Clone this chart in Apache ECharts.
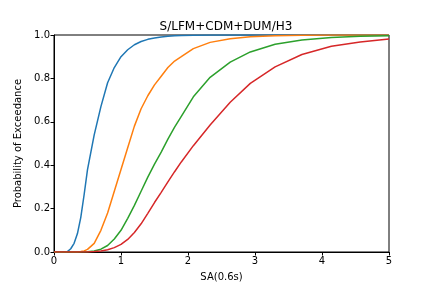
<!DOCTYPE html>
<html lang="en">
<head>
    <meta charset="UTF-8">
    <title>S/LFM+CDM+DUM/H3</title>
    <script src="https://cdn.jsdelivr.net/npm/echarts@6/dist/echarts.min.js"></script>
</head>
<body style="margin:0;">
<div id="chart" style="width: 432px;height: 288px;"></div>
<script>
    // SA(0.6s) grid points
    var saValues = [0, 0.1, 0.2, 0.25, 0.3, 0.35, 0.4, 0.45, 0.5, 0.6, 0.7, 0.8, 0.9, 1.0, 1.1, 1.2, 1.3, 1.4, 1.5, 1.6, 1.7, 1.8, 1.9,
        2.08, 2.33, 2.63, 2.93, 3.3, 3.7, 4.14, 4.57, 5.0];
    // probability of exceedance, one list per damage state curve
    var curveBlue = [0, 0, 0.002, 0.015, 0.04, 0.085, 0.16, 0.265, 0.38, 0.54, 0.67, 0.78, 0.85, 0.9, 0.932, 0.955, 0.97, 0.98, 0.986, 0.991, 0.994, 0.997, 0.998,
        0.999, 1, 1, 1, 1, 1, 1, 1, 1];
    var curveOrange = [0, 0, 0, 0, 0, 0, 0.002, 0.005, 0.012, 0.04, 0.1, 0.18, 0.28, 0.38, 0.48, 0.58, 0.66, 0.72, 0.77, 0.81, 0.85, 0.88, 0.9,
        0.937, 0.966, 0.983, 0.992, 0.997, 0.999, 1, 1, 1];
    var curveGreen = [0, 0, 0, 0, 0, 0, 0, 0, 0.001, 0.005, 0.013, 0.03, 0.06, 0.1, 0.155, 0.215, 0.28, 0.345, 0.405, 0.46, 0.52, 0.575, 0.625,
        0.715, 0.805, 0.875, 0.922, 0.957, 0.977, 0.988, 0.994, 0.997];
    var curveRed = [0, 0, 0, 0, 0, 0, 0, 0, 0, 0.002, 0.005, 0.01, 0.02, 0.035, 0.058, 0.09, 0.13, 0.178, 0.228, 0.275, 0.323, 0.37, 0.415,
        0.49, 0.585, 0.69, 0.777, 0.853, 0.91, 0.948, 0.968, 0.982];
    var xTicks = [0, 1, 2, 3, 4, 5];
    var yTicks = [0, 0.2, 0.4, 0.6, 0.8, 1.0];

    var colors = ['#1f77b4', '#ff7f0e', '#2ca02c', '#d62728'];
    var curves = [curveBlue, curveOrange, curveGreen, curveRed];

    function pairs(ys) {
        return saValues.map(function (x, i) { return [x, ys[i]]; });
    }

    var font = 'DejaVu Sans';
    var myChart = echarts.init(document.getElementById('chart'));
    var option = {
        animation: false,
        backgroundColor: '#ffffff',
        textStyle: { fontFamily: font },
        title: {
            text: 'S/LFM+CDM+DUM/H3',
            left: 221,
            textAlign: 'center',
            top: 16,
            textStyle: { fontSize: 12, fontWeight: 'normal', color: '#000', fontFamily: font }
        },
        grid: {
            left: 54, right: 43, top: 35, bottom: 36,
            show: true, borderColor: '#000', borderWidth: 1, backgroundColor: 'transparent'
        },
        xAxis: {
            type: 'value',
            min: xTicks[0], max: xTicks[xTicks.length - 1], interval: 1,
            name: 'SA(0.6s)',
            nameLocation: 'middle',
            nameGap: 20,
            nameTextStyle: { fontSize: 10, color: '#000', fontFamily: font },
            axisLine: { show: true, lineStyle: { color: '#000', width: 1 } },
            axisTick: { show: true, inside: false, length: 3.5, lineStyle: { color: '#000' } },
            axisLabel: { fontSize: 10, color: '#000', margin: 4, fontFamily: font },
            splitLine: { show: false }
        },
        yAxis: {
            type: 'value',
            min: yTicks[0], max: yTicks[yTicks.length - 1], interval: 0.2,
            name: 'Probability of Exceedance',
            nameLocation: 'middle',
            nameGap: 27,
            nameTextStyle: { fontSize: 10, color: '#000', fontFamily: font },
            axisLine: { show: true, lineStyle: { color: '#000', width: 1 } },
            axisTick: { show: true, inside: false, length: 3.5, lineStyle: { color: '#000' } },
            axisLabel: {
                fontSize: 10, color: '#000', margin: 4, fontFamily: font,
                formatter: function (v) { return v.toFixed(1); }
            },
            splitLine: { show: false }
        },
        series: curves.map(function (ys, i) {
            return {
                type: 'line',
                data: pairs(ys),
                symbol: 'none',
                smooth: false,
                clip: true,
                lineStyle: { color: colors[i], width: 1.5 },
                itemStyle: { color: colors[i] }
            };
        })
    };
    myChart.setOption(option);
</script>
</body>
</html>
